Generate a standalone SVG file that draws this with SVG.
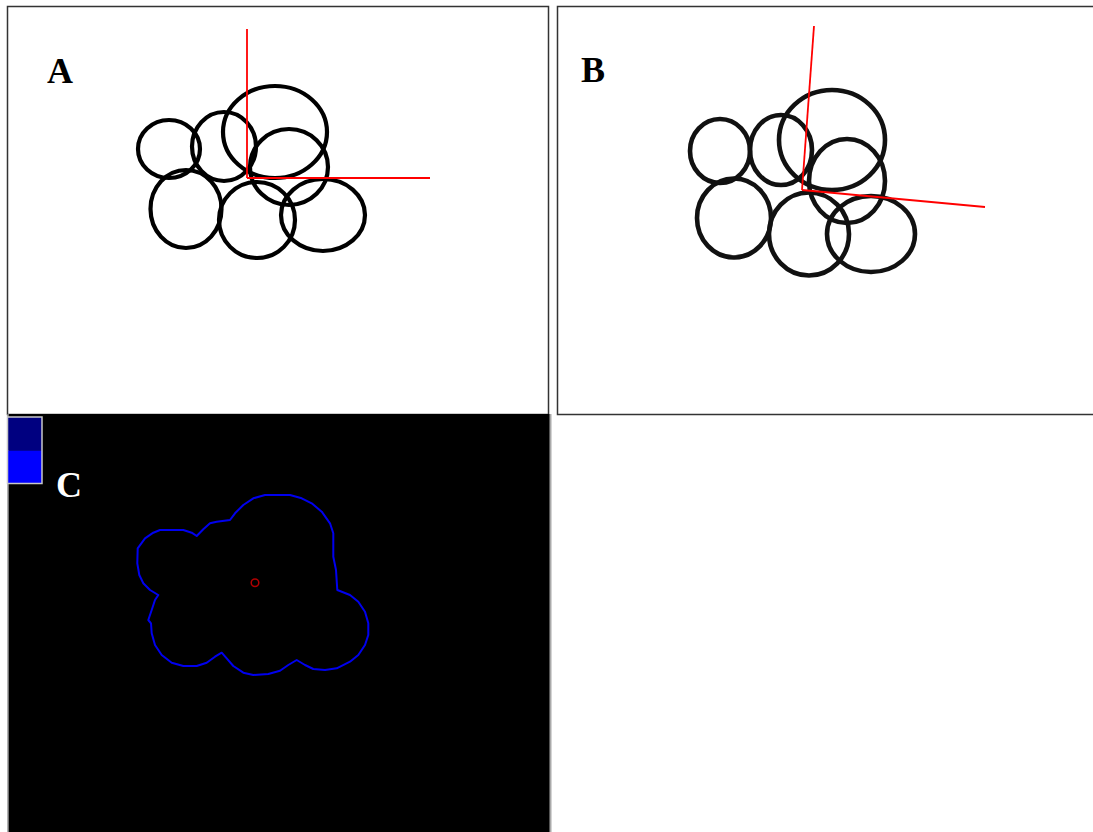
<svg xmlns="http://www.w3.org/2000/svg" width="1093" height="832" viewBox="0 0 1093 832">
<style>
.frame{fill:#ffffff;stroke:#333333;stroke-width:1.5}
.ring{fill:none;stroke:#000000;stroke-width:4.2}
.ringb{fill:none;stroke:#111111;stroke-width:4.6}
.axis{stroke:#ff0000;stroke-width:1.8;fill:none}
.lbl{font-family:"Liberation Serif","Times New Roman",serif;font-weight:bold;font-size:36px}
</style>
<rect width="1093" height="832" fill="#ffffff"/>
<g id="panelA">
<rect class="frame" x="7.5" y="6.5" width="541" height="408"/>
<g class="ring">
<ellipse cx="169" cy="149" rx="31" ry="29"/>
<ellipse cx="224" cy="146.5" rx="32" ry="34.5"/>
<ellipse cx="275" cy="132" rx="52" ry="46"/>
<ellipse cx="289" cy="167" rx="39" ry="38"/>
<ellipse cx="186" cy="209" rx="35.5" ry="39"/>
<ellipse cx="257" cy="220" rx="38" ry="38"/>
<ellipse cx="323" cy="215" rx="42" ry="36"/>
</g>
<line class="axis" x1="247" y1="29" x2="247" y2="178"/>
<line class="axis" x1="247" y1="178" x2="430" y2="178"/>
<text class="lbl" x="47" y="83" fill="#000000">A</text>
</g>
<g id="panelB">
<rect class="frame" x="557.5" y="6.5" width="540" height="408"/>
<g class="ringb">
<ellipse cx="720" cy="151" rx="30" ry="32"/>
<ellipse cx="781" cy="150" rx="31" ry="35"/>
<ellipse cx="832" cy="140" rx="53" ry="50"/>
<ellipse cx="847" cy="181" rx="38" ry="42"/>
<ellipse cx="734" cy="218" rx="37" ry="39.5"/>
<ellipse cx="809" cy="234" rx="40" ry="41.5"/>
<ellipse cx="871" cy="234" rx="44" ry="38"/>
</g>
<line class="axis" x1="802" y1="190" x2="814" y2="26"/>
<line class="axis" x1="802" y1="190" x2="985" y2="207"/>
<text class="lbl" x="581" y="82" fill="#000000">B</text>
</g>
<g id="panelC">
<rect x="8" y="414" width="542" height="418" fill="#000000"/>
<line x1="8" y1="414" x2="8" y2="832" stroke="#999999" stroke-width="1.5"/>
<line x1="550.5" y1="414" x2="550.5" y2="832" stroke="#aaaaaa" stroke-width="2"/>
<rect x="7.5" y="417" width="34.5" height="33.5" fill="#000080"/>
<rect x="7.5" y="450.5" width="34.5" height="33" fill="#0000ff"/>
<rect x="7.5" y="417" width="34.5" height="66.5" fill="none" stroke="#c8c8c8" stroke-width="1.5"/>
<text class="lbl" x="56" y="497" fill="#ffffff">C</text>
<path fill="none" stroke="#0000ee" stroke-width="2" stroke-linejoin="round" d="M265,495 L290,495 L301.7,498.3 L311.7,503.3 L321.7,511.7 L330,523.3 L333.3,533.3 L333.3,556.7 L336,570 L337.3,590 L350,595 L358.3,601.7 L365,611.7 L368.3,623.3 L368.3,635 L365,645 L358.3,655 L350,661.7 L336.7,668.3 L325,670 L313.3,669 L305,665 L296.7,660 L288.3,665 L280,670.7 L268.3,674 L253.3,675 L243.3,672.7 L233.3,666 L226.7,658.3 L221.7,652.7 L215,656.7 L206.7,662.7 L196.7,666 L183.3,666 L171.7,662.7 L161.7,655 L155,645 L151.7,633.3 L151,623.3 L148.3,620 L151.7,610 L155,600 L158.3,595 L150,590 L143.3,583.3 L139.3,575 L137.3,563.3 L137.7,548.3 L145,538.3 L153.3,532.7 L160,530 L183.3,530 L191.7,532.7 L196.7,536 L203.3,529.3 L210,523.3 L216.7,521.7 L230,520 L235,513.3 L243.3,505 L253.3,498.3 Z"/>
<circle cx="255" cy="582.7" r="3.8" fill="none" stroke="#b00000" stroke-width="1.5"/>
</g>
</svg>
